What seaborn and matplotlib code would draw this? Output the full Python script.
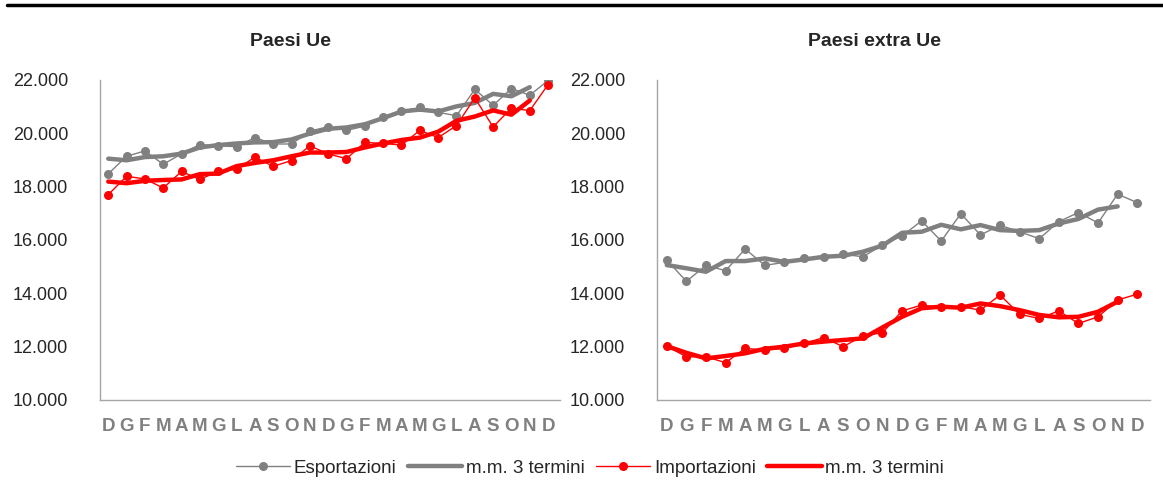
import matplotlib
matplotlib.use('Agg')

import pandas as pd
import numpy as np
import matplotlib.pyplot as plt
import seaborn as sns
from matplotlib import font_manager
from matplotlib.ticker import FuncFormatter, FixedLocator
from matplotlib.lines import Line2D

# mesi (dicembre -> dicembre, due anni)
mesi = ['D', 'G', 'F', 'M', 'A', 'M', 'G', 'L', 'A', 'S', 'O', 'N',
        'D', 'G', 'F', 'M', 'A', 'M', 'G', 'L', 'A', 'S', 'O', 'N', 'D']

# Paesi Ue
ue_export = [18480, 19140, 19340, 18840, 19230, 19580, 19530, 19500, 19840, 19600, 19600, 20080,
             20250, 20110, 20270, 20630, 20820, 20970, 20790, 20660, 21650, 21050, 21680, 21430, 21980]
ue_export_mm = [19050, 18990, 19110, 19140, 19240, 19470, 19560, 19620, 19660, 19670, 19770, 19990,
                20170, 20220, 20340, 20570, 20820, 20890, 20820, 21010, 21140, 21480, 21390, 21730]
ue_import = [17700, 18390, 18290, 17950, 18570, 18270, 18580, 18650, 19110, 18760, 18980, 19530,
             19230, 19050, 19660, 19620, 19560, 20110, 19840, 20290, 21330, 20240, 20950, 20850, 21830]
ue_import_mm = [18190, 18130, 18220, 18250, 18270, 18470, 18490, 18770, 18890, 18990, 19140, 19280,
                19280, 19300, 19470, 19620, 19750, 19840, 20060, 20470, 20630, 20860, 20700, 21230]

# Paesi extra Ue
ext_export = [15250, 14450, 15050, 14850, 15660, 15050, 15160, 15320, 15350, 15470, 15370, 15810,
              16150, 16720, 15960, 16990, 16190, 16550, 16310, 16050, 16690, 17030, 16640, 17720, 17400]
ext_export_mm = [15060, 14940, 14810, 15210, 15210, 15310, 15180, 15270, 15370, 15410, 15560, 15790,
                 16270, 16310, 16570, 16400, 16560, 16370, 16340, 16370, 16620, 16790, 17140, 17260]
ext_import = [12020, 11620, 11620, 11400, 11940, 11870, 11940, 12120, 12340, 12000, 12410, 12520,
              13340, 13560, 13470, 13500, 13370, 13940, 13210, 13060, 13340, 12870, 13120, 13750, 13970]
ext_import_mm = [12020, 11770, 11560, 11650, 11750, 11920, 12000, 12120, 12190, 12250, 12310, 12720,
                 13120, 13440, 13500, 13460, 13620, 13520, 13370, 13190, 13100, 13120, 13310, 13690]

GRIGIO = '#808080'
ROSSO = '#FF0000'

sns.set_style('white')
installed = {f.name for f in font_manager.fontManager.ttflist}
narrow = 'Liberation Sans Narrow' if 'Liberation Sans Narrow' in installed else 'Liberation Sans'
plt.rcParams['font.family'] = [narrow, 'DejaVu Sans']

W, H = 1163, 497
fig = plt.figure(figsize=(W / 100, H / 100), dpi=100)

# linea nera in alto
fig.add_artist(Line2D([7 / W, 1.0], [1 - 5 / H, 1 - 5 / H], color='black', lw=2.5,
                      transform=fig.transFigure))


def pannello(ax, exp, exp_mm, imp, imp_mm, xlim):
    x = np.arange(len(mesi))
    df = pd.DataFrame({'x': x, 'exp': exp, 'imp': imp})
    dmm = pd.DataFrame({'x': x[:len(exp_mm)], 'exp_mm': exp_mm, 'imp_mm': imp_mm})
    sns.lineplot(data=df, x='x', y='exp', ax=ax, color=GRIGIO, lw=1, marker='o',
                 markersize=6.5, markeredgewidth=0)
    sns.lineplot(data=dmm, x='x', y='exp_mm', ax=ax, color=GRIGIO, lw=3.2)
    sns.lineplot(data=df, x='x', y='imp', ax=ax, color=ROSSO, lw=1, marker='o',
                 markersize=6.5, markeredgewidth=0)
    sns.lineplot(data=dmm, x='x', y='imp_mm', ax=ax, color=ROSSO, lw=3.2)
    ax.set_ylim(10000, 22000)
    ax.set_xlim(*xlim)
    ax.yaxis.set_major_locator(FixedLocator(np.arange(10000, 22001, 2000)))
    ax.yaxis.set_major_formatter(FuncFormatter(lambda v, p: f'{v:,.0f}'.replace(',', '.')))
    ax.set_xticks(x)
    ax.set_xticklabels(mesi, fontweight='bold', color=GRIGIO, fontsize=13.5)
    ax.tick_params(axis='x', length=0, pad=13)
    ax.tick_params(axis='y', length=0, pad=23, labelsize=13)
    ax.set_xlabel('')
    ax.set_ylabel('')
    for s in ['top', 'right']:
        ax.spines[s].set_visible(False)
    for s in ['left', 'bottom']:
        ax.spines[s].set_color('#A6A6A6')
        ax.spines[s].set_linewidth(1)


ax1 = fig.add_axes([100 / W, 1 - 400 / H, 460 / W, 320 / H])
ax2 = fig.add_axes([657 / W, 1 - 400 / H, 493 / W, 320 / H])
pannello(ax1, ue_export, ue_export_mm, ue_import, ue_import_mm, (-0.45, 24.65))
pannello(ax2, ext_export, ext_export_mm, ext_import, ext_import_mm, (-0.5, 24.65))

# titoli centrati sull'area del grafico, come in Excel
fig.text(291 / W, 1 - 42 / H, 'Paesi Ue', ha='center', va='center',
         fontweight='bold', fontsize=14)
fig.text(875 / W, 1 - 42 / H, 'Paesi extra Ue', ha='center', va='center',
         fontweight='bold', fontsize=14)

handles = [
    Line2D([], [], color=GRIGIO, lw=1, marker='o', markersize=6.5, markeredgewidth=0),
    Line2D([], [], color=GRIGIO, lw=3.2),
    Line2D([], [], color=ROSSO, lw=1, marker='o', markersize=6.5, markeredgewidth=0),
    Line2D([], [], color=ROSSO, lw=3.2),
]
labels = ['Esportazioni', 'm.m. 3 termini', 'Importazioni', 'm.m. 3 termini']
fig.legend(handles, labels, loc='center', bbox_to_anchor=(590 / W, 1 - 468 / H), ncol=4,
           frameon=False, fontsize=13.5, handlelength=2.9, handletextpad=0.2,
           columnspacing=0.6)

fig.savefig('out.png', dpi=100)
